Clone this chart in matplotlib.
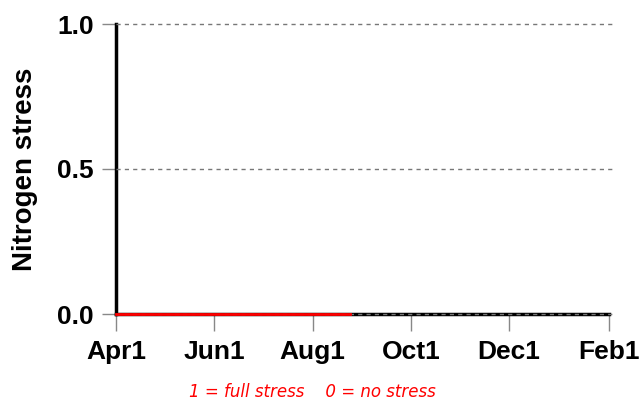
import numpy as np
import matplotlib
matplotlib.use("Agg")
import matplotlib.pyplot as plt

# data
stress_dates = np.array(["2001-04-01", "2001-08-24"], dtype="datetime64[D]")
stress_values = [0.0, 0.0]

tick_dates = np.array(["2001-04-01", "2001-06-01", "2001-08-01",
                       "2001-10-01", "2001-12-01", "2002-02-01"], dtype="datetime64[D]")
tick_labels = ["Apr1", "Jun1", "Aug1", "Oct1", "Dec1", "Feb1"]
y_ticks = [0.0, 0.5, 1.0]
y_labels = ["0.0", "0.5", "1.0"]

plt.rcParams["font.family"] = ["Liberation Sans", "DejaVu Sans"]

fig = plt.figure(figsize=(6.42, 4.0), dpi=100)
ax = fig.add_axes([116 / 642, 86 / 400, 493 / 642, 290 / 400])

# dashed grid drawn on top of the spines
for y in y_ticks:
    ax.axhline(y, xmin=0, xmax=1.01, color="#777777", lw=1, ls=(0, (3, 3)),
               zorder=3, clip_on=False)

ax.plot(stress_dates, stress_values, color="red", lw=2, zorder=4, clip_on=False)

ax.set_xlim(tick_dates[0], tick_dates[-1])
ax.set_ylim(0, 1)
ax.set_xticks(tick_dates)
ax.set_xticklabels(tick_labels)
ax.set_yticks(y_ticks)
ax.set_yticklabels(y_labels)

for s in ["top", "right"]:
    ax.spines[s].set_visible(False)
for s in ["left", "bottom"]:
    ax.spines[s].set_linewidth(2.5)
    ax.spines[s].set_color("black")

ax.tick_params(axis="x", direction="out", length=12, width=1, color="#888888",
               labelsize=19, pad=7)
ax.tick_params(axis="y", direction="out", length=10, width=1, color="#888888",
               labelsize=19, pad=6)
for lab in ax.get_xticklabels() + ax.get_yticklabels():
    lab.set_fontweight("bold")
ax.set_ylabel("Nitrogen stress", fontsize=20, fontweight="bold", labelpad=14)

fig.text(312 / 642, 8 / 400, "1 = full stress    0 = no stress", color="red",
         fontsize=12, style="italic", ha="center", va="center",
         family="DejaVu Sans")

fig.savefig("out.png", dpi=100)
